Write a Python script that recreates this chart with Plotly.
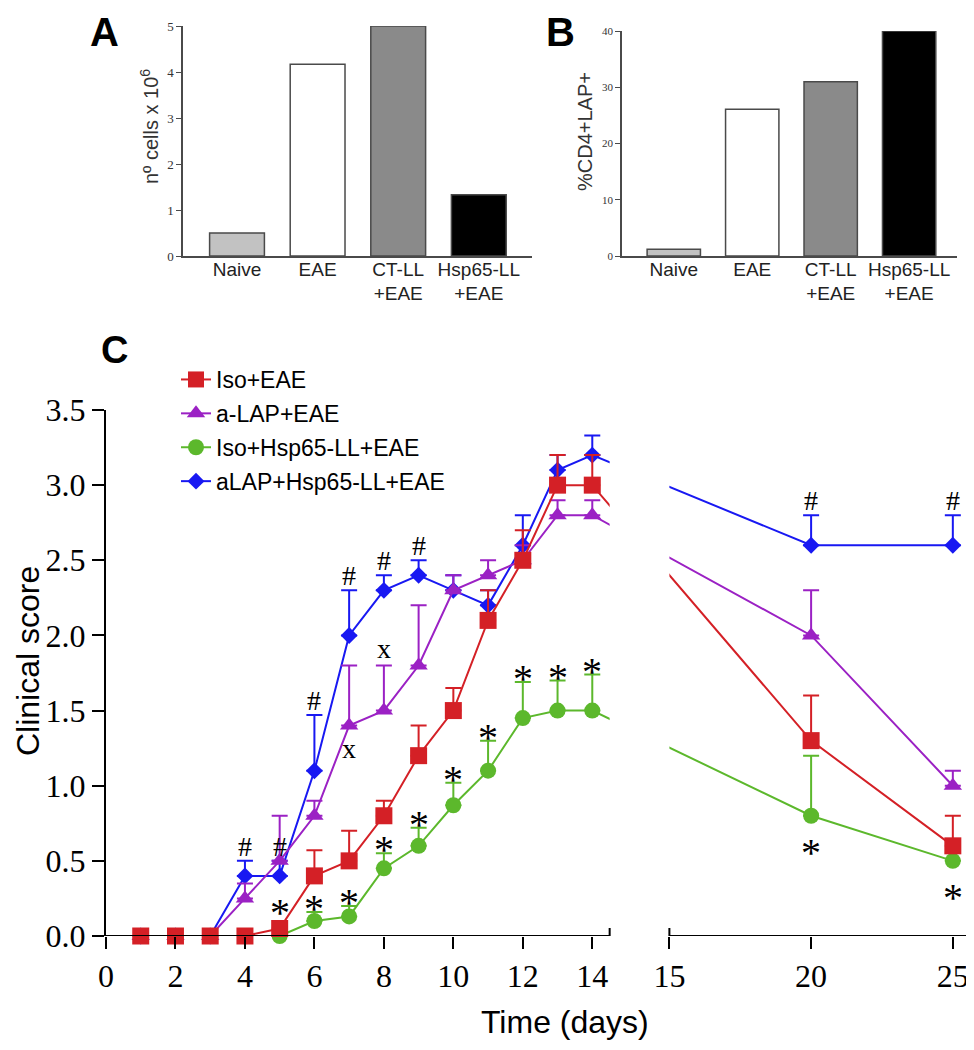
import plotly.graph_objects as go

PAGE_W, PAGE_H = 974, 1050
OFF = 8                      # default page margin around the plot div
W, H = PAGE_W - OFF, PAGE_H - OFF

# ---------------- data ----------------
# Panels A and B
groups = ["Naive", "EAE", "CT-LL<br>+EAE", "Hsp65-LL<br>+EAE"]
cells_x1e6 = [0.5, 4.17, 5.0, 1.33]
cd4_lap_pct = [1.2, 26.1, 31.0, 40.0]
bar_colors = ["#c2c2c2", "#ffffff", "#8a8a8a", "#000000"]

# Panel C (clinical score, mean and upper SEM)
days = [1, 2, 3, 4, 5, 6, 7, 8, 9, 10, 11, 12, 13, 14, 20, 25]
iso_eae = [0, 0, 0, 0, 0.05, 0.40, 0.50, 0.80, 1.20, 1.50, 2.10, 2.50, 3.00, 3.00, 1.30, 0.60]
iso_eae_err = [0, 0, 0, 0, 0, 0.17, 0.20, 0.10, 0.20, 0.15, 0.20, 0.20, 0.20, 0.20, 0.30, 0.20]
alap_eae = [0, 0, 0, 0.25, 0.50, 0.80, 1.40, 1.50, 1.80, 2.30, 2.40, 2.50, 2.80, 2.80, 2.00, 1.00]
alap_eae_err = [0, 0, 0, 0.10, 0.30, 0.10, 0.40, 0.30, 0.40, 0.10, 0.10, 0.10, 0.10, 0.10, 0.30, 0.10]
iso_hsp = [0, 0, 0, 0, 0, 0.10, 0.13, 0.45, 0.60, 0.87, 1.10, 1.45, 1.50, 1.50, 0.80, 0.50]
iso_hsp_err = [0, 0, 0, 0, 0, 0.06, 0.07, 0.10, 0.12, 0.15, 0.20, 0.24, 0.20, 0.24, 0.40, 0]
alap_hsp = [0, 0, 0, 0.40, 0.40, 1.10, 2.00, 2.30, 2.40, 2.30, 2.20, 2.60, 3.10, 3.20, 2.60, 2.60]
alap_hsp_err = [0, 0, 0, 0.10, 0.10, 0.37, 0.30, 0.10, 0.10, 0.10, 0.10, 0.20, 0.10, 0.13, 0.20, 0.20]

series_names = ["Iso+EAE", "a-LAP+EAE", "Iso+Hsp65-LL+EAE", "aLAP+Hsp65-LL+EAE"]
series_colors = ["#d42026", "#9b21c4", "#5cb82c", "#1818f2"]
series_symbols = ["square", "triangle-up", "circle", "diamond"]

# significance marks
hash_days = [4, 5, 6, 7, 8, 9, 20, 25]          # aLAP+Hsp65-LL+EAE, above bar
x_days_above = [8]                               # a-LAP+EAE
x_days_below = [7]
star_days_above = [5, 6, 7, 8, 9, 10, 11, 12, 13, 14]   # Iso+Hsp65-LL+EAE
star_days_below = [20, 25]

x_tick_days = [0, 2, 4, 6, 8, 10, 12, 14, 15, 20, 25]

# ---------------- broken x axis mapping ----------------
LEFT_END = 14.5
BREAK_START = 15
RIGHT_ORIGIN = 16.22
RIGHT_SCALE = 0.816
AXIS_END = 25.5


def pos(d):
    return d if d <= LEFT_END else RIGHT_ORIGIN + (d - BREAK_START) * RIGHT_SCALE


def px_x(p):
    return (p - OFF) / W


def px_y(p):
    return 1 - (p - OFF) / H


SANS = "Arial, Liberation Sans, sans-serif"
SERIF = "Liberation Serif, Times New Roman, serif"

fig = go.Figure()

# ---------------- bars ----------------
fig.add_trace(go.Bar(x=groups, y=cells_x1e6, width=0.68,
                     marker=dict(color=bar_colors, line=dict(color="#4a4a4a", width=1.5)),
                     xaxis="x", yaxis="y", showlegend=False))
fig.add_trace(go.Bar(x=groups, y=cd4_lap_pct, width=0.68,
                     marker=dict(color=bar_colors, line=dict(color="#4a4a4a", width=1.5)),
                     xaxis="x2", yaxis="y2", showlegend=False))

# ---------------- lines ----------------
vals = {0: (iso_eae, iso_eae_err), 1: (alap_eae, alap_eae_err),
        2: (iso_hsp, iso_hsp_err), 3: (alap_hsp, alap_hsp_err)}
sizes = {0: 17, 1: 16, 2: 16, 3: 13}
xs = [pos(d) for d in days]
for i in [3, 1, 2, 0]:
    y, e = vals[i]
    fig.add_trace(go.Scatter(
        x=xs, y=y, mode="lines+markers", name=series_names[i],
        line=dict(color=series_colors[i], width=2),
        marker=dict(symbol=series_symbols[i], size=sizes[i], color=series_colors[i], line=dict(width=0)),
        error_y=dict(type="data", symmetric=False, array=e, arrayminus=[0] * len(e),
                     color=series_colors[i], thickness=2, width=8),
        xaxis="x3", yaxis="y3", cliponaxis=False,
        legendgroup=series_names[i], legendrank=i + 1,
    ))

# ---------------- layout ----------------
bar_x_common = dict(showline=True, linecolor="#4a4a4a", linewidth=1.5, ticks="",
                    showgrid=False, zeroline=False, fixedrange=True, automargin=False,
                    ticklabelstandoff=-5,
                    tickfont=dict(family=SANS, size=19, color="#222222"))
bar_y_common = dict(showline=True, linecolor="#4a4a4a", linewidth=1.5, ticks="outside",
                    ticklen=5, tickcolor="#4a4a4a", showgrid=False, zeroline=False,
                    automargin=False,
                    tickfont=dict(family=SERIF, size=13, color="#333333"))

fig.update_layout(
    template="none",
    width=W, height=H, margin=dict(l=0, r=0, t=0, b=0, pad=0), autosize=False,
    paper_bgcolor="white", plot_bgcolor="white", bargap=0.3,
    font=dict(family=SANS, color="black"),
    xaxis=dict(domain=[px_x(183), px_x(532)], range=[-0.67, 3.66], anchor="y", **bar_x_common),
    yaxis=dict(domain=[px_y(256), px_y(26)], range=[0, 5], dtick=1, anchor="x", **bar_y_common),
    xaxis2=dict(domain=[px_x(622), px_x(957)], range=[-0.66, 3.61], anchor="y2", **bar_x_common),
    yaxis2=dict(domain=[px_y(256), px_y(31)], range=[0, 40], dtick=10, anchor="x2",
                **{**bar_y_common, "tickfont": dict(family=SERIF, size=11, color="#333333")}),
    xaxis3=dict(domain=[px_x(106), px_x(967)], range=[0, pos(AXIS_END)], anchor="y3",
                showline=False, showgrid=False, zeroline=False, automargin=False,
                tickvals=[pos(d) for d in x_tick_days], ticktext=[str(d) for d in x_tick_days],
                ticks="outside", ticklen=12, tickwidth=2, tickcolor="black",
                tickfont=dict(family=SERIF, size=32, color="black")),
    yaxis3=dict(domain=[px_y(936), px_y(410)], range=[0, 3.5], dtick=0.5, tickformat=".1f",
                anchor="x3", showline=True, linecolor="black", linewidth=2,
                ticks="outside", ticklen=12, tickwidth=2, tickcolor="black",
                showgrid=False, zeroline=False, automargin=False,
                tickfont=dict(family=SERIF, size=32, color="black")),
    legend=dict(x=px_x(176), y=px_y(358), xanchor="left", yanchor="top",
                font=dict(family=SANS, size=23, color="black"),
                bgcolor="rgba(0,0,0,0)", borderwidth=0,
                traceorder="grouped", tracegroupgap=1),
)

# broken axis: hide connecting lines in the gap, draw axis segments
shapes = [
    dict(type="rect", xref="x3", yref="y3", x0=pos(LEFT_END), x1=pos(BREAK_START), y0=0, y1=3.5,
         fillcolor="white", line=dict(width=0), layer="above"),
    dict(type="line", xref="x3", yref="y3", x0=0, x1=pos(LEFT_END), y0=0, y1=0,
         line=dict(color="black", width=2), layer="above"),
    dict(type="line", xref="x3", yref="y3", x0=pos(BREAK_START), x1=pos(AXIS_END), y0=0, y1=0,
         line=dict(color="black", width=2), layer="above"),
]
for d in [LEFT_END, BREAK_START]:
    shapes.append(dict(type="line", xref="x3", yref="y3", ysizemode="pixel", yanchor=0,
                       x0=pos(d), x1=pos(d), y0=-8, y1=8,
                       line=dict(color="black", width=2), layer="above"))
fig.update_layout(shapes=shapes)

ann = []
# panel letters
ann.append(dict(text="<b>A</b>", x=px_x(104), y=px_y(32), font=dict(family=SANS, size=40, color="black")))
ann.append(dict(text="<b>B</b>", x=px_x(560), y=px_y(32), font=dict(family=SANS, size=40, color="black")))
ann.append(dict(text="<b>C</b>", x=px_x(114), y=px_y(350), font=dict(family=SANS, size=38, color="black")))
# axis titles
ann.append(dict(text="nº cells x 10<sup>6</sup>", x=px_x(150), y=px_y(127), textangle=-90,
                font=dict(family=SANS, size=20, color="#333333")))
ann.append(dict(text="%CD4+LAP+", x=px_x(585), y=px_y(132), textangle=-90,
                font=dict(family=SANS, size=20, color="#333333")))
ann.append(dict(text="Clinical score", x=px_x(28), y=px_y(661), textangle=-90,
                font=dict(family=SANS, size=32, color="black")))
ann.append(dict(text="Time (days)", x=px_x(565), y=px_y(1022),
                font=dict(family=SANS, size=32, color="black")))
for a in ann:
    a.update(xref="paper", yref="paper", showarrow=False, xanchor="center", yanchor="middle")


def mark(d, yv, text, size, above, shift):
    return dict(x=pos(d), y=yv, xref="x3", yref="y3", text=text, showarrow=False,
                xanchor="center", yanchor="bottom" if above else "top", yshift=shift,
                font=dict(family=SERIF, size=size, color="black"))


for d in hash_days:
    k = days.index(d)
    ann.append(mark(d, alap_hsp[k] + alap_hsp_err[k], "#", 28, True, -3))
for d in x_days_above:
    k = days.index(d)
    ann.append(mark(d, alap_eae[k] + alap_eae_err[k], "x", 28, True, -1))
for d in x_days_below:
    k = days.index(d)
    ann.append(mark(d, alap_eae[k], "x", 28, False, -5))
for d in star_days_above:
    k = days.index(d)
    top = max(iso_hsp[k] + iso_hsp_err[k], iso_eae[k] + 0.08 if iso_hsp_err[k] == 0 else 0)
    ann.append(mark(d, top, "*", 40, True, -21))
for d in star_days_below:
    k = days.index(d)
    ann.append(mark(d, iso_hsp[k], "*", 40, False, -12))

fig.update_layout(annotations=ann)

fig.write_html("out.html")
